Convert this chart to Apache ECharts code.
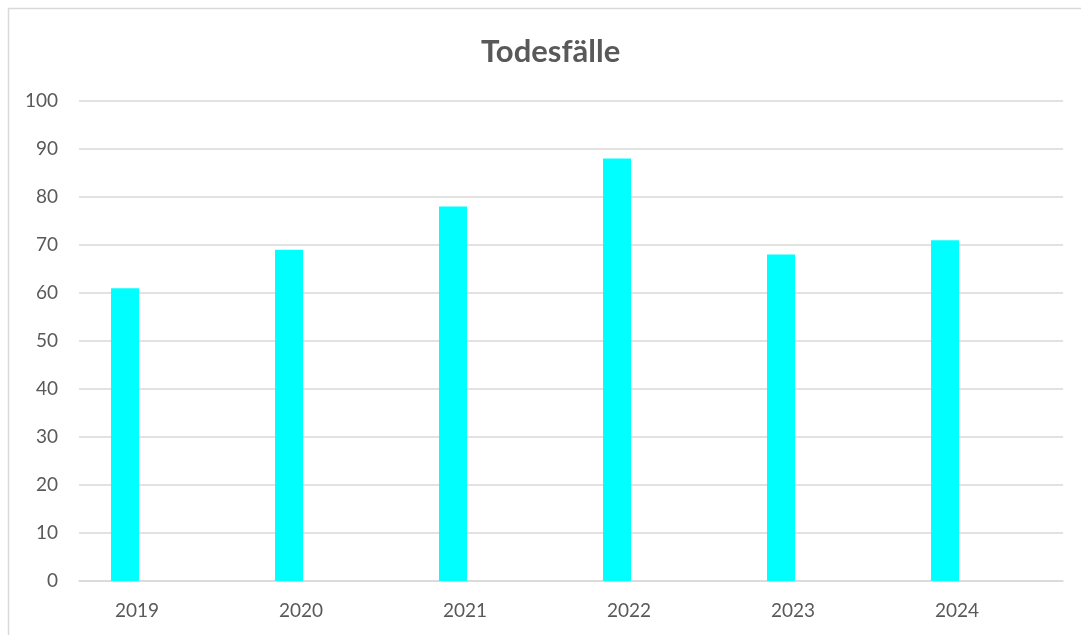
<!DOCTYPE html>
<html>
<head>
<meta charset="utf-8">
<script src="https://cdn.jsdelivr.net/npm/echarts@6/dist/echarts.min.js"></script>
<style>
  html, body { margin: 0; padding: 0; background: #fff; }
  #main { width: 1081px; height: 635px; }
</style>
</head>
<body>
<div id="main"></div>
<script>
// Todesfälle pro Jahr
const years = ['2019', '2020', '2021', '2022', '2023', '2024'];
const deaths = [61, 69, 78, 88, 68, 71];
const emptySeries = [null, null, null, null, null, null];

const gray = '#595959';
const lineGray = '#d9d9d9';
const font = 'Lato, "Open Sans", sans-serif';

const chart = echarts.init(document.getElementById('main'));
chart.setOption({
  animation: false,
  backgroundColor: '#fff',
  graphic: [{
    type: 'rect',
    shape: { x: 8.5, y: 8.5, width: 1200, height: 800 },
    style: { fill: 'none', stroke: lineGray, lineWidth: 1.5 },
    silent: true
  }],
  title: {
    text: 'Todesfälle',
    left: 476,
    top: 31,
    textStyle: { color: gray, fontSize: 31, fontWeight: 'bold', fontFamily: font }
  },
  grid: { left: 79, right: 18, top: 101, bottom: 54, containLabel: false },
  xAxis: {
    type: 'category',
    data: years,
    axisTick: { show: false },
    axisLine: { lineStyle: { color: lineGray, width: 1.5 } },
    axisLabel: {
      color: gray, fontSize: 19, fontFamily: font,
      margin: 20, padding: [0, 48, 0, 0]
    }
  },
  yAxis: {
    type: 'value',
    min: 0,
    max: 100,
    interval: 10,
    axisLine: { show: false },
    axisTick: { show: false },
    axisLabel: { color: gray, fontSize: 19, fontFamily: font, margin: 21 },
    splitLine: { lineStyle: { color: lineGray, width: 1.5 } }
  },
  series: [
    {
      name: 'Todesfälle',
      type: 'bar',
      data: deaths,
      barWidth: 28,
      barGap: '157%',
      itemStyle: { color: '#00FFFF' }
    },
    {
      name: 'leer',
      type: 'bar',
      data: emptySeries,
      barWidth: 28
    }
  ]
});
</script>
</body>
</html>
